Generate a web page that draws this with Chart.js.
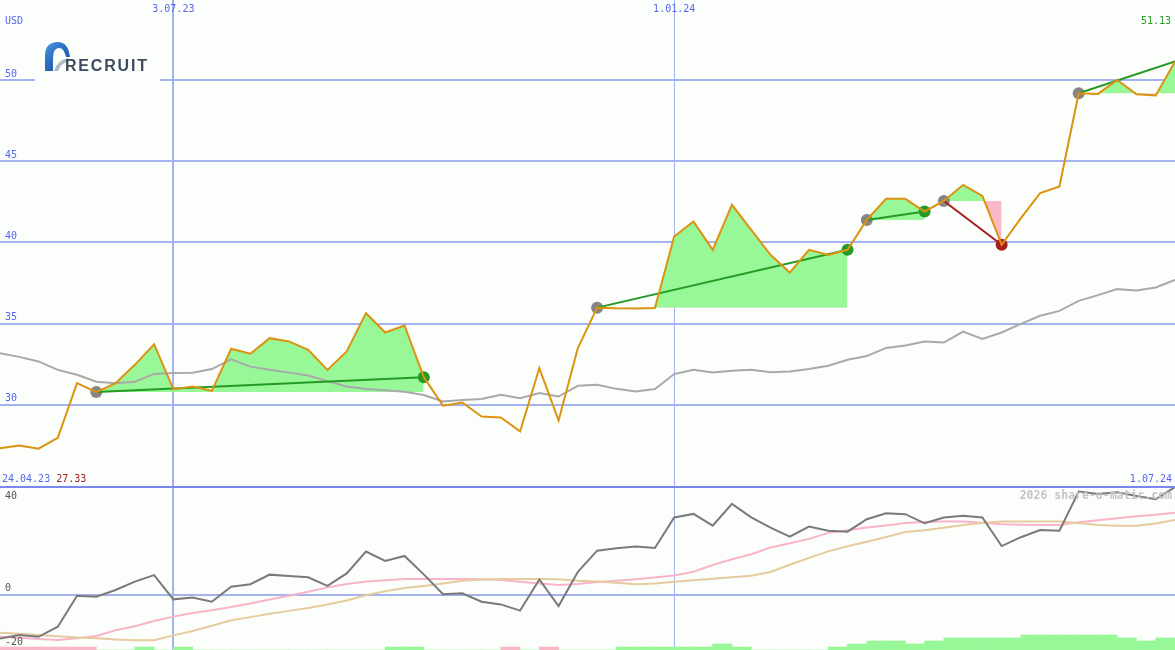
<!DOCTYPE html>
<html>
<head>
<meta charset="utf-8">
<script src="https://cdn.jsdelivr.net/npm/chart.js@4.4.1/dist/chart.umd.min.js"></script>
<style>
  html, body { margin: 0; padding: 0; background: #fbfefb; }
  #wrap { position: relative; width: 1175px; height: 650px; overflow: hidden; }
  #top { position: absolute; left: 0; top: 0; width: 1175px; height: 486px; }
  #sep { position: absolute; left: 0; top: 486px; width: 1175px; height: 2px; background: #7888ec; }
  #bottom { position: absolute; left: 0; top: 488px; width: 1175px; height: 162px; }
</style>
</head>
<body>
<div id="wrap">
  <div id="top"><canvas id="chart-price"></canvas></div>
  <div id="sep"></div>
  <div id="bottom"><canvas id="chart-rel"></canvas></div>
</div>
<script>
// weekly closes, 62 weeks
const currency = 'USD';
const firstDate = '24.04.23';
const lastDate = '1.07.24';
const dateTickIdx = [9, 35];
const dateTickLabels = ['3.07.23', '1.01.24'];
const priceTicks = [30, 35, 40, 45, 50];
const lowerTicks = [40, 0, -20];
const watermark = '2026 share-o-matic.com';

const price = [27.33, 27.5, 27.3, 27.97, 31.33, 30.78, 31.33, 32.46, 33.73, 30.96,
    31.13, 30.86, 33.45, 33.14, 34.1, 33.9, 33.38, 32.15, 33.28, 35.64,
    34.45, 34.88, 31.7, 29.94, 30.14, 29.28, 29.22, 28.36, 32.26, 29.03,
    33.49, 35.98, 35.94, 35.93, 35.96, 40.36, 41.28, 39.54, 42.31, 40.77,
    39.23, 38.14, 39.54, 39.23, 39.54, 41.38, 42.68, 42.68, 41.9, 42.55,
    43.54, 42.86, 39.85, 41.49, 43.03, 43.44, 49.18, 49.14, 50.0, 49.12,
    49.04, 51.13];

const avg = [33.18, 32.95, 32.67, 32.15, 31.85, 31.42, 31.33, 31.42, 31.9, 31.95,
    31.97, 32.2, 32.8, 32.35, 32.15, 31.98, 31.8, 31.45, 31.13, 30.97,
    30.9, 30.8, 30.6, 30.2, 30.3, 30.35, 30.62, 30.41, 30.72, 30.51,
    31.17, 31.23, 30.98, 30.82, 30.97, 31.89, 32.15, 31.99, 32.09, 32.15,
    32.0, 32.05, 32.2, 32.4, 32.77, 33.0, 33.5, 33.65, 33.9, 33.83,
    34.51, 34.06, 34.45, 34.98, 35.48, 35.78, 36.4, 36.75, 37.12, 37.03,
    37.22, 37.69];

// signals: start week, end week, closed or still running
const sigStart = [5, 31, 45, 49, 56];
const sigEnd = [22, 44, 48, 52, 61];
const sigClosed = [true, true, true, true, false];

// lower panel
const rel = [-18.1, -16.7, -17.4, -13.2, -0.3, -0.7, 2.1, 5.6, 8.3, -1.8,
    -1.0, -2.8, 3.5, 4.5, 8.5, 7.9, 7.4, 3.8, 9.0, 18.1,
    14.2, 16.3, 8.6, 0.3, 0.7, -2.8, -3.9, -6.5, 6.5, -4.6,
    9.7, 18.5, 19.5, 20.2, 19.6, 32.3, 33.8, 28.9, 38.0, 32.4,
    28.1, 24.3, 28.5, 26.8, 26.4, 31.6, 34.1, 33.7, 29.9, 32.3,
    33.0, 32.3, 20.4, 24.1, 27.1, 26.8, 43.1, 42.1, 42.8, 41.3,
    39.9, 45];

const relFast = [-17.4, -17.8, -18.3, -18.7, -18.0, -17.1, -14.7, -13.0, -10.8, -9.0,
    -7.5, -6.3, -5.0, -3.5, -1.9, -0.3, 1.4, 3.2, 4.6, 5.6,
    6.2, 6.7, 6.7, 6.7, 6.7, 6.6, 6.3, 5.5, 4.8, 4.2,
    4.6, 5.4, 6.0, 6.6, 7.3, 8.1, 9.7, 12.5, 14.9, 17.0,
    19.8, 21.6, 23.4, 25.9, 27.0, 28.1, 29.0, 30.0, 30.4, 30.6,
    30.6, 30.1, 29.5, 29.3, 29.2, 29.2, 30.3, 31.2, 32.0, 32.8,
    33.5, 34.3];

const relSlow = [-15.7, -16.1, -16.6, -17.2, -17.7, -18.0, -18.5, -18.8, -18.8, -16.8,
    -15.0, -12.8, -10.5, -9.2, -7.8, -6.6, -5.4, -3.9, -2.3, -0.1,
    1.6, 2.9, 3.8, 4.8, 6.0, 6.5, 6.7, 6.7, 6.7, 6.6,
    6.0, 5.6, 5.1, 4.5, 4.8, 5.5, 6.2, 6.8, 7.4, 8.0,
    9.6, 12.6, 15.5, 18.2, 20.3, 22.2, 24.2, 26.3, 27.0, 28.0,
    29.2, 30.0, 30.6, 30.6, 30.6, 30.6, 30.0, 29.2, 28.9, 28.9,
    29.8, 31.3];

// weekly bars between points (negative = pink)
const hist = [-1, -1, -1, -1, -1, 0, 0, 1, 0, 1,
    0, 0, 0, 0, 0, 0, 0, 0, 0, 0,
    1, 1, 0, 0, 0, 0, -1, 0, -1, 0,
    0, 0, 1, 1, 1, 1, 1, 2, 1, 0,
    0, 0, 0, 1, 2, 3, 3, 2, 3, 4,
    4, 4, 4, 5, 5, 5, 5, 5, 4, 3,
    4];

const bg = '#fbfefb';
const gridBlue = '#a4b2f2';
const textBlue = '#5566ee';
const orange = '#dd9210';
const fillGreen = '#98f898';
const fillPink = '#f9b8c8';
const upGreen = '#259a25';
const downRed = '#a81e1e';
const mono = '"DejaVu Sans Mono", monospace';

const xMax = price.length - 1;
const pts = (arr) => arr.map((v, i) => ({ x: i, y: v }));

function setTicks(values) {
    return (axis) => {
        axis.ticks = values.map((v) => ({ value: v }));
    };
}

function xScale() {
    return {
        type: 'linear',
        min: 0,
        max: xMax,
        offset: false,
        afterBuildTicks: setTicks(dateTickIdx),
        ticks: { display: false },
        border: { display: false },
        grid: {
            color: gridBlue,
            drawTicks: false,
            offset: false,
            lineWidth: (c) => (c.tick && c.tick.value === dateTickIdx[0] ? 2 : 1),
        },
    };
}

function drawLogo(ctx) {
    ctx.save();
    ctx.fillStyle = bg;
    ctx.fillRect(35, 36, 125, 48);
    const g = ctx.createLinearGradient(44, 42, 70, 70);
    g.addColorStop(0, '#4a9ae6');
    g.addColorStop(0.5, '#2a6cc0');
    g.addColorStop(1, '#164c9c');
    ctx.fillStyle = g;
    ctx.beginPath();
    ctx.moveTo(45, 71);
    ctx.lineTo(45, 56);
    ctx.quadraticCurveTo(45, 42, 58, 42);
    ctx.quadraticCurveTo(68, 42, 70, 57);
    ctx.lineTo(66, 57);
    ctx.quadraticCurveTo(64, 48, 59, 48);
    ctx.quadraticCurveTo(53, 48, 53, 59);
    ctx.lineTo(53, 71);
    ctx.closePath();
    ctx.fill();
    ctx.fillStyle = '#b4bac2';
    ctx.beginPath();
    ctx.moveTo(54, 71);
    ctx.quadraticCurveTo(57, 60, 69, 58);
    ctx.lineTo(69, 61);
    ctx.quadraticCurveTo(61, 63, 58, 71);
    ctx.closePath();
    ctx.fill();
    ctx.fillStyle = '#3d4b5c';
    ctx.font = 'bold 16px "Liberation Sans", Arial, sans-serif';
    ctx.letterSpacing = '1.8px';
    ctx.textAlign = 'left';
    ctx.textBaseline = 'alphabetic';
    ctx.fillText('RECRUIT', 65, 71);
    ctx.restore();
}

const priceLabels = {
    id: 'priceLabels',
    beforeDatasetsDraw(chart) {
        drawLogo(chart.ctx);
    },
    afterDraw(chart) {
        const { ctx, scales: { x, y } } = chart;
        ctx.save();
        ctx.font = '10px ' + mono;
        ctx.textBaseline = 'middle';
        ctx.fillStyle = textBlue;
        ctx.textAlign = 'left';
        ctx.fillText(currency, 5, 21);
        priceTicks.forEach((v) => ctx.fillText(String(v), 5, y.getPixelForValue(v) - 6));
        ctx.textAlign = 'center';
        dateTickIdx.forEach((v, k) => ctx.fillText(dateTickLabels[k], x.getPixelForValue(v), 9));
        const by = chart.height - 7;
        ctx.textAlign = 'left';
        ctx.fillText(firstDate, 2, by);
        const w = ctx.measureText(firstDate + ' ').width;
        ctx.fillStyle = downRed;
        ctx.fillText(price[0].toFixed(2), 2 + w, by);
        ctx.textAlign = 'right';
        ctx.fillStyle = textBlue;
        ctx.fillText(lastDate, chart.width - 3, by);
        ctx.fillStyle = upGreen;
        ctx.fillText(price[xMax].toFixed(2), chart.width - 4, 21);
        ctx.restore();
    },
};

const relLabels = {
    id: 'relLabels',
    afterDraw(chart) {
        const { ctx, scales: { y } } = chart;
        ctx.save();
        ctx.font = '10px ' + mono;
        ctx.textBaseline = 'middle';
        ctx.textAlign = 'left';
        ctx.fillStyle = '#555555';
        lowerTicks.forEach((v) => {
            // labels sit just above their level, kept inside the panel
            const py = v < 0 ? y.getPixelForValue(v) - 1 : y.getPixelForValue(v) - 7;
            ctx.fillText(String(v), 5, Math.min(Math.max(py, 8), chart.height - 8));
        });
        ctx.font = 'bold 11.5px ' + mono;
        ctx.fillStyle = '#c4c4c4';
        ctx.textAlign = 'right';
        ctx.fillText(watermark, chart.width - 3, 8);
        ctx.restore();
    },
};

function priceDatasets() {
    const sets = [];
    sigStart.forEach((s, k) => {
        const e = sigEnd[k];
        const base = price[s];
        const up = price[e] >= base;
        const seg = price.slice(s, e + 1).map((v, j) => ({ x: s + j, y: v }));
        sets.push({
            data: seg,
            borderWidth: 0,
            pointRadius: 0,
            fill: { target: { value: base }, above: fillGreen, below: fillPink },
            order: 20,
        });
        sets.push({
            data: [{ x: s, y: base }, { x: e, y: price[e] }],
            borderColor: up ? upGreen : downRed,
            borderWidth: 2,
            pointRadius: 0,
            fill: false,
            order: 4,
        });
        const dots = [{ x: s, y: base }];
        const colors = ['#858585'];
        if (sigClosed[k]) {
            dots.push({ x: e, y: price[e] });
            colors.push(up ? upGreen : downRed);
        }
        sets.push({
            data: dots,
            showLine: false,
            pointRadius: 6,
            pointHoverRadius: 6,
            pointBorderWidth: 0,
            pointBackgroundColor: colors,
            order: 6,
        });
    });
    sets.push({
        data: pts(avg),
        borderColor: '#a9a9a9',
        borderWidth: 2,
        pointRadius: 0,
        fill: false,
        order: 8,
    });
    sets.push({
        data: pts(price),
        borderColor: orange,
        borderWidth: 2,
        pointRadius: 0,
        fill: false,
        order: 1,
    });
    return sets;
}

new Chart(document.getElementById('chart-price'), {
    type: 'line',
    data: { datasets: priceDatasets() },
    options: {
        responsive: true,
        maintainAspectRatio: false,
        animation: false,
        events: [],
        layout: { padding: 0, autoPadding: false },
        elements: { line: { tension: 0 } },
        plugins: { legend: { display: false }, tooltip: { enabled: false } },
        scales: {
            x: xScale(),
            y: {
                min: 25,
                max: 54.92,
                afterBuildTicks: setTicks(priceTicks),
                ticks: { display: false },
                border: { display: false },
                grid: { color: gridBlue, lineWidth: 2, drawTicks: false },
            },
        },
    },
    plugins: [priceLabels],
});

new Chart(document.getElementById('chart-rel'), {
    type: 'line',
    data: {
        datasets: [
            {
                type: 'bar',
                data: hist.map((v, i) => ({ x: i + 0.5, y: Math.abs(v) })),
                backgroundColor: hist.map((v) => (v < 0 ? fillPink : fillGreen)),
                borderWidth: 0,
                barPercentage: 1,
                categoryPercentage: 1,
                yAxisID: 'yh',
                order: 10,
            },
            {
                data: pts(relFast),
                borderColor: '#fab4c8',
                borderWidth: 2,
                pointRadius: 0,
                order: 4,
            },
            {
                data: pts(relSlow),
                borderColor: '#e6cc9c',
                borderWidth: 2,
                pointRadius: 0,
                order: 3,
            },
            {
                data: pts(rel),
                borderColor: '#7a7a7a',
                borderWidth: 2,
                pointRadius: 0,
                order: 1,
            },
        ],
    },
    options: {
        responsive: true,
        maintainAspectRatio: false,
        animation: false,
        events: [],
        layout: { padding: 0, autoPadding: false },
        elements: { line: { tension: 0 } },
        plugins: { legend: { display: false }, tooltip: { enabled: false } },
        scales: {
            x: xScale(),
            y: {
                min: -22.9,
                max: 44.6,
                afterBuildTicks: setTicks([0]),
                ticks: { display: false },
                border: { display: false },
                grid: { color: gridBlue, lineWidth: 2, drawTicks: false },
            },
            yh: {
                display: false,
                min: 0,
                max: 54,
            },
        },
    },
    plugins: [relLabels],
});
</script>
</body>
</html>
